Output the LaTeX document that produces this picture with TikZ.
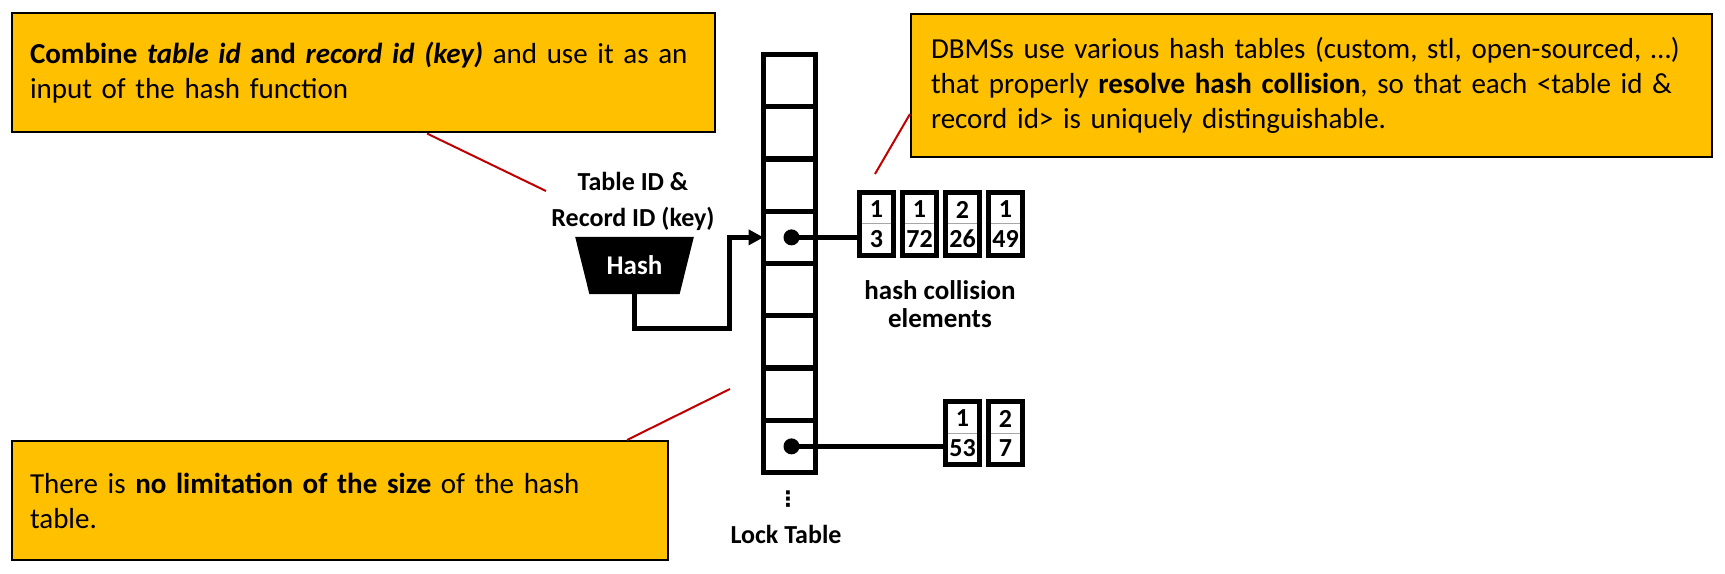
\documentclass[tikz,border=0pt]{standalone}
\usepackage{amsmath}
\usepackage{fontspec}
\setmainfont{Carlito}
\newfontfamily\symfont{DejaVu Sans}
\usepackage{tikz}
\usetikzlibrary{shapes.geometric,positioning,calc,arrows.meta}

\definecolor{notegold}{RGB}{255,192,0}
\definecolor{leadred}{RGB}{192,0,0}

\tikzset{
  note/.style={draw=black, line width=1.5pt, fill=notegold, align=left, inner ysep=0pt,
    font={\fontsize{21.75}{26.25}\selectfont}},
  lead/.style={draw=leadred, line width=1.5pt},
  cell/.style={draw=black, line width=3.75pt, minimum width=39pt, minimum height=39.19pt,
    inner sep=0pt, outer sep=0pt},
  ptr/.style={circle, fill=black, minimum size=12pt, inner sep=0pt},
  pipe/.style={draw=black, line width=3.75pt},
  slot/.style={draw=black, fill=white, line width=3.75pt, minimum width=25.5pt,
    minimum height=47.25pt, inner sep=0pt, outer sep=0pt},
  divider/.style={draw=gray!70, line width=0.75pt, shorten <=1.875pt, shorten >=1.875pt},
  digit/.style={inner sep=0pt, font={\fontsize{19.5}{19.5}\selectfont\bfseries}},
  lbl/.style={align=center, inner sep=0pt, font={\fontsize{19.5}{27}\selectfont\bfseries}},
}

\begin{document}
\begin{tikzpicture}[x=0.75pt,y=0.75pt,yscale=-1,xscale=1]
\useasboundingbox (0,0) rectangle (1725,574);

% Notes
\node[note, minimum width=527.25pt, minimum height=89.25pt, text width=500.25pt, inner xsep=13.5pt]
  (noteA) at (363.5,73)
  {\textbf{Combine \textit{table id} and \textit{record id (key)}} and use it as an\\input of the hash function};
\node[note, minimum width=600.75pt, minimum height=107.25pt, text width=570.75pt, inner xsep=15pt]
  (noteB) at (1311.5,85.5)
  {DBMSs use various hash tables (custom, stl, open-sourced, …)\\that properly \textbf{resolve hash collision}, so that each <table id \&\\record id> is uniquely distinguishable.};
\node[note, minimum width=492pt, minimum height=89.25pt, text width=465pt, inner xsep=13.5pt]
  (noteC) at (340,500.5)
  {There is \textbf{no limitation of the size} of the hash\\table.};

% Lock table
\foreach \i in {1,...,8}
  \node[cell] (cell\i) at (789.5,{54.5+52.25*(\i-0.5)}) {};
\node[ptr] (ptrA) at ($(cell4.center)+(2,0)$) {};
\node[ptr] (ptrB) at ($(cell8.center)+(2,0)$) {};
\node[inner sep=0pt, font={\fontsize{16}{16}\selectfont\symfont\bfseries}] (more) at (788,499.5) {⋮};
\node[lbl, anchor=base] (locklbl) at (786,543) {Lock Table};

% Hash function
\node[lbl] (keylbl) at (633,201) {Table ID \&\\Record ID (key)};
\node[trapezium, trapezium left angle=65.5, trapezium right angle=65.5, shape border rotate=180,
  trapezium stretches=true, minimum width=89.25pt, minimum height=42.75pt, fill=black, text=white,
  inner sep=0pt, font={\fontsize{20.25}{20.25}\selectfont\bfseries}] (hash) at (634.5,265.5) {Hash};
\coordinate (bend) at (729,328);
\draw[pipe, -{Triangle[length=11.25pt,width=11.25pt]}] (hash.south) |- (bend) |- (cell4.west);

% Collision elements
\foreach \t/\b [count=\k] in {1/3,1/72,2/26,1/49} {
  \node[slot] (colA\k) at ({876.5+43*(\k-1)},224) {};
  \draw[divider] (colA\k.west) -- (colA\k.east);
  \node[digit] (colA\k-t) at ($(colA\k.center)+(0,-14.5)$) {\t};
  \node[digit] (colA\k-b) at ($(colA\k.center)+(0,15)$) {\b};
}
\foreach \t/\b [count=\k] in {1/53,2/7} {
  \node[slot] (colB\k) at ({962.5+43*(\k-1)},433) {};
  \draw[divider] (colB\k.west) -- (colB\k.east);
  \node[digit] (colB\k-t) at ($(colB\k.center)+(0,-14.5)$) {\t};
  \node[digit] (colB\k-b) at ($(colB\k.center)+(0,15)$) {\b};
}
\draw[pipe] (ptrA.center) -- (ptrA -| colA1.west);
\draw[pipe] (ptrB.center) -- (ptrB -| colB1.west);
\node[lbl, font={\fontsize{20.25}{21}\selectfont\bfseries}] (colllbl) at (940,304) {hash collision\\elements};

% Leader lines
\coordinate (tipA) at (546,191);
\coordinate (tipB) at (875,174);
\coordinate (tipC) at (730,389);
\draw[lead] ($(noteA.south west)+(416,0)$) -- (tipA);
\draw[lead] ($(noteB.north west)+(0,101)$) -- (tipB);
\draw[lead] ($(noteC.north west)+(616,0)$) -- (tipC);

\end{tikzpicture}
\end{document}
